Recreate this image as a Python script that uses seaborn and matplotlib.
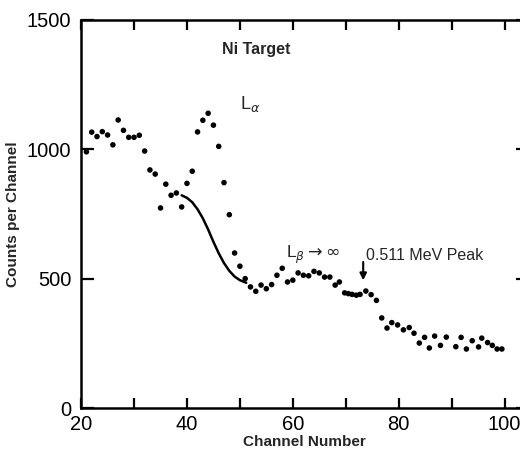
import numpy as np
import pandas as pd
import seaborn as sns
import matplotlib.pyplot as plt

# Ni target spectrum
channel = [21, 22, 23, 24, 25, 26, 27, 28, 29, 30, 31, 32, 33, 34, 35, 36, 37, 38, 39, 40,
           41, 42, 43, 44, 45, 46, 47, 48, 49, 50, 51, 52, 53, 54, 55, 56, 57, 58, 59, 60,
           61, 62, 63, 64, 65, 66, 67, 68, 68.8, 69.8, 70.5, 71.2, 72, 72.7, 73.8, 74.8, 75.8,
           76.8, 77.8, 78.7, 79.8, 80.9, 82, 82.9, 83.9, 84.9, 85.8, 86.8, 87.9, 89, 90.8,
           91.8, 92.8, 93.9, 95.1, 95.7, 96.8, 97.7, 98.6, 99.5]
counts = [990, 1066, 1049, 1068, 1055, 1017, 1113, 1073, 1046, 1046, 1054, 993, 920, 904, 773,
          865, 822, 831, 777, 868, 915, 1067, 1112, 1139, 1093, 1011, 871, 747, 599, 548,
          500, 468, 451, 475, 461, 477, 513, 540, 487, 494, 522, 513, 511, 528, 522, 506,
          506, 475, 487, 445, 442, 439, 436, 439, 452, 438, 416, 348, 309, 330, 321, 302,
          311, 289, 251, 273, 232, 278, 242, 274, 237, 273, 228, 260, 236, 270, 253, 242,
          228, 228]

# background curve under the L-alpha peak
bg_channel = [39, 40, 41, 42, 43, 44, 45, 46, 47, 48, 49, 50, 51.2]
bg_counts = [822, 812, 795, 768, 733, 690, 642, 598, 560, 530, 508, 494, 484]

df = pd.DataFrame({"channel": channel, "counts": counts})
bg = pd.DataFrame({"channel": bg_channel, "counts": bg_counts})

sns.set_style("ticks")
plt.rcParams['font.family'] = ['Liberation Sans', 'DejaVu Sans']
plt.rcParams['mathtext.fontset'] = 'dejavusans'

fig = plt.figure(figsize=(5.2, 4.54), dpi=100)
# right spine sits just past the right edge of the picture
ax = fig.add_axes([0.156, 0.1013, 0.86, 0.855])

sns.scatterplot(x="channel", y="counts", data=df, color="black", s=16,
                edgecolor="none", ax=ax)
sns.lineplot(x="channel", y="counts", data=bg, color="black", linewidth=1.8,
             sort=False, estimator=None, ax=ax)

ax.set_xlim(20, 104.5)
ax.set_ylim(0, 1500)
ax.set_xticks([20, 40, 60, 80, 100])
ax.set_xticks([30, 50, 70, 90], minor=True)
ax.set_yticks([0, 500, 1000, 1500])
ax.tick_params(axis="both", which="both", direction="in", top=True, right=True,
               width=1.6, labelsize=14.5, colors="black")
ax.tick_params(axis="x", which="both", length=7, pad=5)
ax.tick_params(axis="y", which="both", length=9, pad=7)
for s in ax.spines.values():
    s.set_linewidth(1.8)
    s.set_color("black")

ax.set_xlabel("Channel Number", fontsize=11, fontweight="bold", labelpad=1)
ax.set_ylabel("Counts per Channel", fontsize=11, fontweight="bold", labelpad=5)

ax.text(53, 1384, "Ni Target", fontsize=11.5, ha="center", va="center", fontweight="bold")
ax.text(50.0, 1175, r"L$_{\alpha}$", fontsize=13, ha="left", va="center")
ax.text(58.8, 592, r"L$_{\beta}$$\rightarrow\infty$", fontsize=12.5, ha="left", va="center")
ax.text(73.8, 588, "0.511 MeV Peak", fontsize=11.5, ha="left", va="center")
ax.annotate("", xy=(73.3, 483), xytext=(73.3, 575),
            arrowprops=dict(arrowstyle="-|>", color="black", lw=1.5))

plt.savefig("out.png", dpi=100)
